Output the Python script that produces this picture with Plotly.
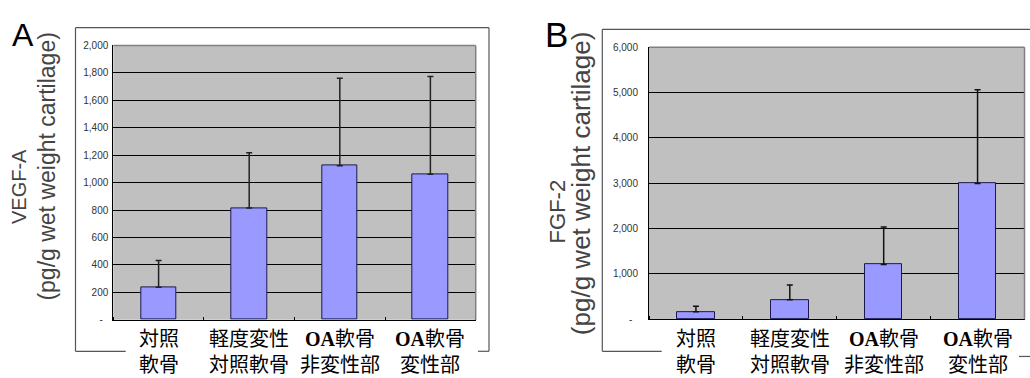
import plotly.graph_objects as go

W, H = 1030, 378

# ---- data ----
OA = '<span style="font-family:Liberation Serif"><b>OA</b></span>'
cat_line1 = ["対照", "軽度変性", OA + "軟骨", OA + "軟骨"]
cat_line2 = ["軟骨", "対照軟骨", "非変性部", "変性部"]
vegf_mean = [236, 815, 1122, 1060]
vegf_sd = [196, 403, 639, 713]
fgf_mean = [165, 430, 1203, 2990]
fgf_sd = [121, 322, 830, 2072]
vegf_ticks = [0, 200, 400, 600, 800, 1000, 1200, 1400, 1600, 1800, 2000]
vegf_ticktext = ["-\u00a0\u00a0", "200", "400", "600", "800", "1,000", "1,200", "1,400", "1,600", "1,800", "2,000"]
fgf_ticks = [0, 1000, 2000, 3000, 4000, 5000, 6000]
fgf_ticktext = ["-\u00a0\u00a0", "1,000", "2,000", "3,000", "4,000", "5,000", "6,000"]
xpos = [0, 1, 2, 3]

def px(x):
    return x / W

def py(y):
    return 1 - y / H

BAR = "#9999ff"
EDGE = "#1a1a4d"
PLOTBG = "#c0c0c0"

fig = go.Figure()
fig.add_trace(go.Bar(x=xpos, y=vegf_mean, width=0.39, marker=dict(color=BAR, line=dict(color=EDGE, width=1)),
                     error_y=dict(type="data", array=vegf_sd, symmetric=False, arrayminus=[0]*4,
                                  color="#222", thickness=1.5, width=3),
                     xaxis="x", yaxis="y", showlegend=False))
fig.add_trace(go.Bar(x=xpos, y=fgf_mean, width=0.40, marker=dict(color=BAR, line=dict(color=EDGE, width=1)),
                     error_y=dict(type="data", array=fgf_sd, symmetric=False, arrayminus=[0]*4,
                                  color="#111", thickness=1.5, width=3),
                     xaxis="x2", yaxis="y2", showlegend=False))

tickfont = dict(family="Liberation Sans", size=10, color="#333")
catfont = dict(family="Noto Sans CJK JP", size=20, color="#000")

xcommon = dict(range=[-0.5, 3.5], tickvals=xpos, showticklabels=False, ticks="",
               showline=True, linecolor="#000", linewidth=1, showgrid=False, zeroline=False,
               minor=dict(tick0=0.5, dtick=1, ticks="inside", ticklen=3, tickcolor="#000", showgrid=False))
ycommon = dict(showline=True, linecolor="#000", linewidth=1, showgrid=True, gridcolor="#000", gridwidth=1,
               zeroline=False, ticks="", tickfont=tickfont)

fig.update_layout(
    width=W, height=H, margin=dict(l=0, r=0, t=0, b=0),
    paper_bgcolor="white", plot_bgcolor=PLOTBG, bargap=0,
    xaxis=dict(domain=[px(113.3), px(475.7)], anchor="y", **xcommon),
    yaxis=dict(domain=[py(323.3), py(41.5)], anchor="x", range=[0, 2000],
               tickvals=vegf_ticks, ticktext=vegf_ticktext, ticklabelstandoff=2, **ycommon),
    xaxis2=dict(domain=[px(649), px(1024.5)], anchor="y2", **xcommon),
    yaxis2=dict(domain=[py(322.7), py(43.3)], anchor="x2", range=[0, 6000],
                tickvals=fgf_ticks, ticktext=fgf_ticktext, ticklabelstandoff=8, **ycommon),
)

shapes = []
# plot-area borders (top / right) in grey
for xa, ya in (("x", "y"), ("x2", "y2")):
    shapes.append(dict(type="line", xref=xa + " domain", yref=ya + " domain", x0=0, x1=1, y0=1, y1=1,
                       line=dict(color="#808080", width=1.5), layer="above"))
    shapes.append(dict(type="line", xref=xa + " domain", yref=ya + " domain", x0=1, x1=1, y0=0, y1=1,
                       line=dict(color="#808080", width=1.5), layer="above"))

frame = dict(color="#555", width=1.2)
def seg(x0, y0, x1, y1):
    shapes.append(dict(type="line", xref="paper", yref="paper", x0=px(x0), y0=py(y0), x1=px(x1), y1=py(y1),
                       line=frame))
# frame A
seg(75.5, 23.3, 489, 23.3)
seg(75.5, 23.3, 75.5, 355.7)
seg(489, 23.3, 489, 355.7)
seg(75.5, 355.7, 125.7, 355.7)
seg(478, 355.7, 489, 355.7)
# frame B
seg(602.3, 25, 1030, 25)
seg(602.3, 25, 602.3, 355.7)
seg(602.3, 355.7, 661.7, 355.7)
seg(1019, 361, 1030, 361)
fig.update_layout(shapes=shapes)

ann = []
def note(text, x, y, size, color="#444", angle=0, family="Liberation Sans"):
    ann.append(dict(text=text, x=px(x), y=py(y), xref="paper", yref="paper", showarrow=False,
                    xanchor="center", yanchor="middle", textangle=angle,
                    font=dict(family=family, size=size, color=color)))
note("A", 23, 31, 32, color="#000")
note("B", 556, 30, 35, color="#000")
note("VEGF-A", 19, 187, 20, angle=-90)
note("(pg/g wet weight cartilage)", 47, 166, 23, angle=-90)
note("FGF-2", 557, 212, 22, angle=-90)
note("(pg/g wet weight cartilage)", 581, 184, 26, angle=-90)

# category labels (two lines each), positioned on the category axis
for xa in ("x", "x2"):
    for xv, l1, l2 in zip(xpos, cat_line1, cat_line2):
        ann.append(dict(text=l1 + "<br>" + l2, x=xv, xref=xa, y=py(355), yref="paper", showarrow=False,
                        xanchor="center", yanchor="middle", font=catfont))
fig.update_layout(annotations=ann)

fig.write_html("out.html", config={"displayModeBar": False},
               post_script="document.body.style.margin='0';document.body.style.padding='0';"
                           "document.body.style.overflow='hidden';")
